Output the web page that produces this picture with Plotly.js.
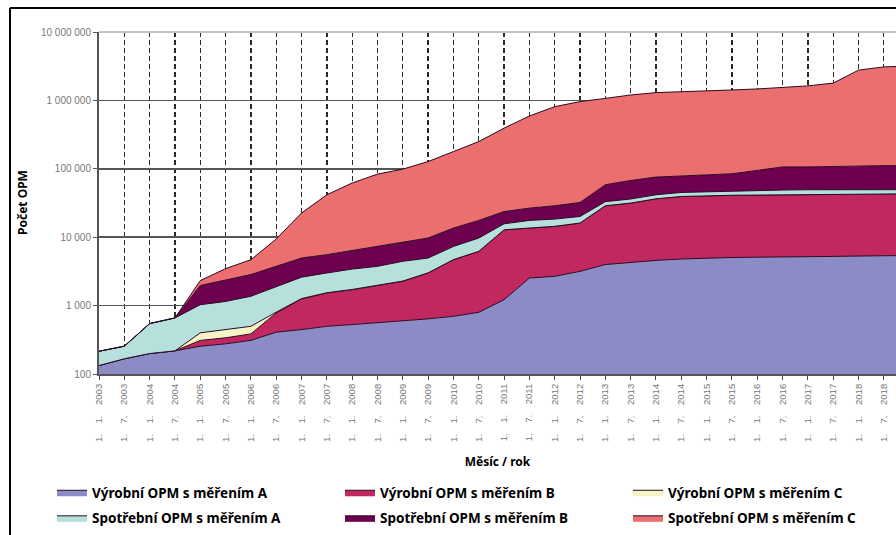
<!DOCTYPE html>
<html>
<head>
<meta charset="utf-8">
<script src="https://cdn.plot.ly/plotly-3.0.1.min.js"></script>
<style>html,body{margin:0;padding:0;background:#fff;}#chart{width:896px;height:535px;}</style>
</head>
<body>
<div id="chart"></div>
<script>
const months = ['1. 1. 2003','1. 7. 2003','1. 1. 2004','1. 7. 2004','1. 1. 2005','1. 7. 2005','1. 1. 2006','1. 7. 2006',
  '1. 1. 2007','1. 7. 2007','1. 1. 2008','1. 7. 2008','1. 1. 2009','1. 7. 2009','1. 1. 2010','1. 7. 2010',
  '1. 1. 2011','1. 7. 2011','1. 1. 2012','1. 7. 2012','1. 1. 2013','1. 7. 2013','1. 1. 2014','1. 7. 2014',
  '1. 1. 2015','1. 7. 2015','1. 1. 2016','1. 7. 2016','1. 1. 2017','1. 7. 2017','1. 1. 2018','1. 7. 2018','1. 1. 2019'];

const vyrobniA = [133,167,199,218,255,276,311,408,446,498,528,559,590,640,697,798,1220,2530,2680,3170,3980,4290,4580,4800,4960,5050,5100,5100,5190,5240,5240,5360,5400];
const vyrobniB = [0,0,0,0,55,62,75,375,805,1030,1180,1410,1680,2360,3990,5400,11580,11070,11720,12930,24820,27210,31820,34600,35540,35950,36200,36600,36910,36860,36860,37640,37700];
const vyrobniC = [0,0,0,0,90,108,112,20,15,15,15,15,15,15,15,15,15,15,15,15,15,15,15,15,15,15,15,15,15,15,15,15,15];
const spotrebniA = [82,88,347,442,630,704,872,1110,1335,1455,1695,1765,2155,1945,2625,3505,2885,3985,3985,3985,4285,4675,5285,5685,5685,5685,6585,7185,7285,7285,7285,6385,6400];
const spotrebniB = [0,0,0,0,940,1190,1470,1840,2360,2560,2990,3580,3940,4760,6270,7880,8000,9000,10400,12100,25400,31300,34000,34000,34700,37900,46800,57600,57100,59400,61800,61800,62000];
const spotrebniC = [0,0,0,0,350,1130,1850,5650,17640,36140,55590,76270,90520,117980,165100,232400,369300,565400,781200,927800,1011500,1132500,1224300,1270900,1309100,1335400,1375300,1433500,1523500,1681200,2658800,2978800,3070000];

const yTickVals = [100,1000,10000,100000,1000000,10000000];
const yTickText = ['100','1 000','10 000','100 000','1 000 000','10 000 000'];

const seriesNames = ['Výrobní OPM s měřením A','Výrobní OPM s měřením B','Výrobní OPM s měřením C',
  'Spotřební OPM s měřením A','Spotřební OPM s měřením B','Spotřební OPM s měřením C'];
const seriesData = [vyrobniA, vyrobniB, vyrobniC, spotrebniA, spotrebniB, spotrebniC];
const seriesColors = ['#8B8BC5','#C0285F','#F6F4C6','#B6E0DC','#6E0050','#EC6F6F'];
const seriesLegend = ['legend','legend2','legend3','legend','legend2','legend3'];

const traces = seriesData.map((d, k) => ({
  type: 'scatter', mode: 'lines', x: months, y: d, name: seriesNames[k],
  stackgroup: 'one', fillcolor: seriesColors[k],
  line: {color: '#2a0a22', width: 1, shape: 'linear'},
  legend: seriesLegend[k], legendgroup: 'g' + k,
  hoverinfo: 'x+y+name'
}));

const W = 896, H = 535, L = 99, T = 32, B = 161, R = 0;
const pw = W - L - R, ph = H - T - B;
const px2x = p => (p - L) / pw;
const py2y = p => (H - B - p) / ph;
const gap = '\u00a0\u00a0\u00a0\u00a0';
const monthLabels = months.map(m => m.split(' ').join(gap));

const legendFont = {family: 'Noto Sans, Arial, sans-serif', size: 13.5, color: '#000', weight: 'bold'};
function legendBox(xpx) {
  return {x: xpx / W, xref: 'container', y: 1 - 477 / H, yref: 'container', xanchor: 'left', yanchor: 'top',
    orientation: 'v', traceorder: 'grouped', tracegroupgap: 5, font: legendFont, bgcolor: 'rgba(0,0,0,0)', borderwidth: 0};
}

const layout = {
  width: W, height: H,
  margin: {l: L, r: R, t: T, b: B, pad: 0, autoexpand: false},
  paper_bgcolor: '#fff', plot_bgcolor: '#fff',
  showlegend: true,
  xaxis: {
    type: 'category', range: [0, 31.48], tickvals: months, ticktext: monthLabels,
    showgrid: true, gridcolor: '#2a2a2a', griddash: '5px,3px', gridwidth: 1.3,
    ticks: 'outside', ticklen: 4, tickcolor: '#444', tickwidth: 1,
    showline: true, linecolor: '#555', linewidth: 2,
    tickangle: -90, tickfont: {family: 'Liberation Sans, Arial, sans-serif', size: 9.5, color: '#777'},
    title: {text: 'Měsíc / rok', font: {family: 'Noto Sans, Arial, sans-serif', size: 12, color: '#000', weight: 'bold'}, standoff: 17},
    automargin: false, fixedrange: true
  },
  yaxis: {
    type: 'log', range: [2, 7], tickvals: yTickVals, ticktext: yTickText,
    showgrid: true, gridcolor: '#555', gridwidth: 1.5,
    ticks: 'outside', ticklen: 4, tickcolor: '#555',
    showline: true, linecolor: '#555', linewidth: 2,
    tickfont: {family: 'Liberation Sans, Arial, sans-serif', size: 10, color: '#777'},
    automargin: false, fixedrange: true
  },
  annotations: [
    {text: 'Počet OPM', xref: 'paper', yref: 'paper', x: px2x(22), y: 0.5, xanchor: 'center', yanchor: 'middle',
     textangle: -90, showarrow: false, font: {family: 'Noto Sans, Arial, sans-serif', size: 12, color: '#000', weight: 'bold'}}
  ],
  legend: legendBox(52),
  legend2: legendBox(340),
  legend3: legendBox(628),
  shapes: [
    {type: 'line', xref: 'paper', yref: 'paper', x0: 0, x1: 1, y0: 1, y1: 1, line: {color: '#c4c4c4', width: 2}, layer: 'above'},
    {type: 'line', xref: 'paper', yref: 'paper', x0: px2x(10), x1: px2x(W), y0: py2y(8), y1: py2y(8), line: {color: '#000', width: 2}},
    {type: 'line', xref: 'paper', yref: 'paper', x0: px2x(10), x1: px2x(10), y0: py2y(8), y1: py2y(H + 2), line: {color: '#000', width: 2}}
  ]
};

Plotly.newPlot('chart', traces, layout, {displayModeBar: false, staticPlot: true});
</script>
</body>
</html>
